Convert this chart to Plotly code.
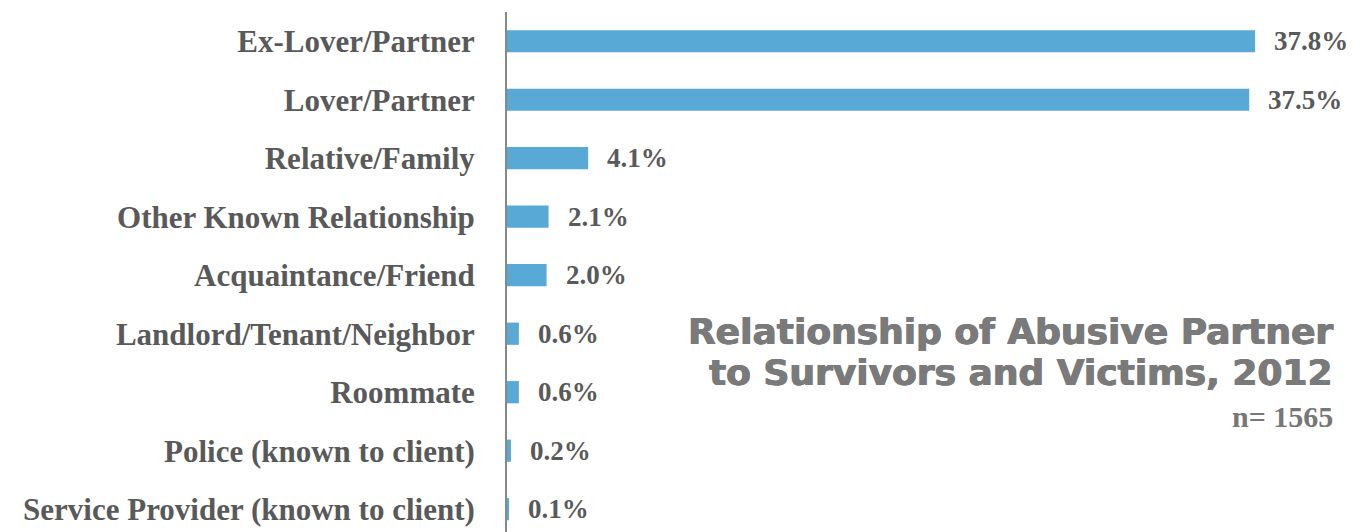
import plotly.graph_objects as go

categories = ['Ex-Lover/Partner', 'Lover/Partner', 'Relative/Family', 'Other Known Relationship',
              'Acquaintance/Friend', 'Landlord/Tenant/Neighbor', 'Roommate',
              'Police (known to client)', 'Service Provider (known to client)']
values = [37.8, 37.5, 4.1, 2.1, 2.0, 0.6, 0.6, 0.2, 0.1]
value_labels = ['37.8%', '37.5%', '4.1%', '2.1%', '2.0%', '0.6%', '0.6%', '0.2%', '0.1%']
title_lines = ['Relationship of Abusive Partner', 'to Survivors and Victims, 2012']

serif = 'Liberation Serif'
gray = '#595959'
title_gray = '#7a7a7a'

fig = go.Figure()
fig.add_trace(go.Bar(x=values, y=categories, orientation='h', width=0.38,
                     marker=dict(color='#58A9D6', line=dict(width=0)),
                     hoverinfo='skip'))

# value labels right of each bar
for v, c, t in zip(values, categories, value_labels):
    fig.add_annotation(x=v, y=c, text='<b>' + t + '</b>', showarrow=False, xanchor='left', xshift=17,
                       font=dict(family=serif, size=27, color=gray))

# title, one annotation per line so the line gap can be set
for line, ypos in zip(title_lines, [0.385, 0.306]):
    fig.add_annotation(xref='paper', yref='paper', x=0.966, y=ypos, xanchor='right', yanchor='middle',
                       text='<b>' + line + '</b>', showarrow=False,
                       font=dict(family='DejaVu Sans', size=36, color=title_gray,
                                 shadow='0.6px 0 0 %s, -0.6px 0 0 %s' % (title_gray, title_gray)))
fig.add_annotation(xref='paper', yref='paper', x=0.966, y=0.223, xanchor='right', yanchor='middle',
                   text='<b>n= 1565</b>', showarrow=False,
                   font=dict(family=serif, size=30, color='#777777'))

# page body has an 8px margin, so the figure is sized/placed to compensate
fig.update_layout(
    width=1356, height=524,
    margin=dict(l=499, r=0, t=4, b=0),
    plot_bgcolor='white', paper_bgcolor='white',
    showlegend=False,
    xaxis=dict(range=[0, 43.3], visible=False),
    yaxis=dict(type='category', categoryorder='array', categoryarray=categories,
               range=[8.39, -0.5], showline=True, linecolor='#888888', linewidth=2,
               showgrid=False, ticks='', ticklabelstandoff=24,
               tickfont=dict(family=serif, size=31, color=gray)),
)
fig.update_yaxes(tickprefix='<b>', ticksuffix='</b>')

fig.write_html('out.html')
